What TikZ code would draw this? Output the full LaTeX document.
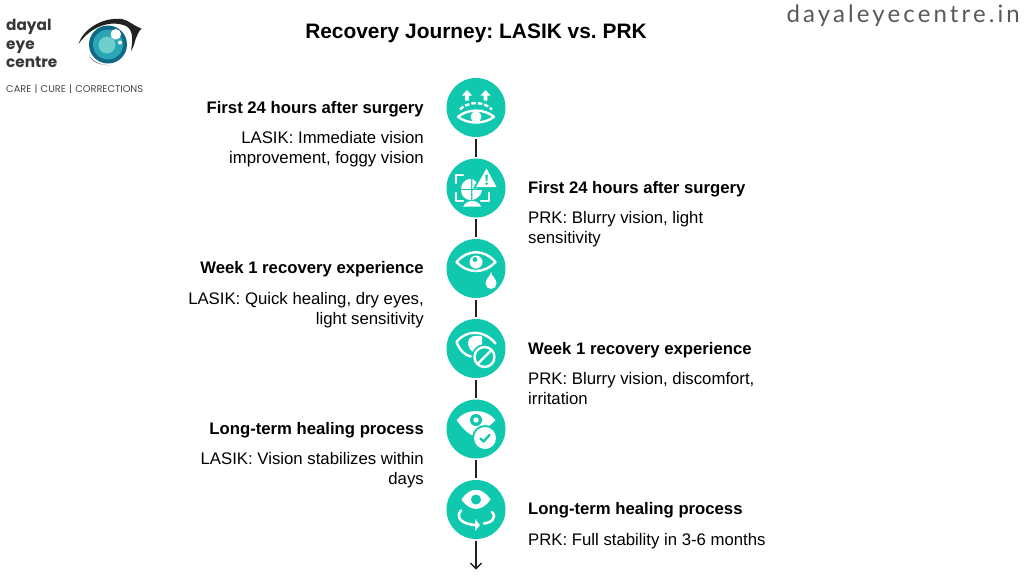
\documentclass[tikz,border=0pt]{standalone}
\usepackage{fontspec}
\setmainfont{Liberation Sans}
\newfontfamily\logofont{Poppins}
\newfontfamily\webfont[LetterSpace=13]{Lato}
\usetikzlibrary{arrows.meta}
\definecolor{tealc}{HTML}{0FC8AE}
\definecolor{inkc}{HTML}{222222}
\definecolor{logoa}{HTML}{0E6A86}
\definecolor{logob}{HTML}{2AA5B5}
\definecolor{logoc}{HTML}{6CCFCB}
\tikzset{
  stepdisc/.style={circle,fill=tealc,draw=none,minimum size=59pt,inner sep=0pt},
  link/.style={draw=inkc,line width=1.5pt,shorten >=1.6pt,shorten <=1.6pt},
  headl/.style={anchor=base east,inner sep=0pt,font=\fontsize{16.7}{20}\selectfont\bfseries,text=black},
  headr/.style={anchor=base west,inner sep=0pt,font=\fontsize{16.7}{20}\selectfont\bfseries,text=black},
  bodyl/.style={anchor=base east,inner sep=0pt,align=right,font=\fontsize{16.75}{20}\selectfont,text=black},
  bodyr/.style={anchor=base west,inner sep=0pt,align=left,font=\fontsize{16.75}{20}\selectfont,text=black},
  wl/.style={draw=white,line width=2.4pt,line cap=round,line join=round},
  logotext/.style={anchor=base west,inner sep=0pt,text=black!78,font=\fontsize{15.3}{15}\selectfont\logofont\bfseries},
}
\frenchspacing
\begin{document}
\frenchspacing
\begin{tikzpicture}[x=1pt,y=-1pt]
\useasboundingbox (0,0) rectangle (1024,576);
\fill[white] (0,0) rectangle (1024,576);
% logo
\node[logotext] (l1) at (6,30) {dayal};
\node[logotext] (l2) at (6,49) {eye};
\node[logotext] (l3) at (6,67) {centre};
\node[anchor=base west,inner sep=0pt,text=black!72,font=\fontsize{9.8}{9}\selectfont\logofont] (l4) at (6,92) {CARE\,\,|\,\,CURE\,\,|\,\,CORRECTIONS};
\fill[inkc] (78.5,44) .. controls (84,27) and (105,17) .. (122,19) .. controls (128,20) and (134,26) .. (141.5,28.5) .. controls (139,31) and (137,35) .. (135,41) .. controls (134,45) and (133,48) .. (131,51) .. controls (133,38) and (133,30) .. (126,26) .. controls (112,20) and (92,25) .. (78.5,44) -- cycle;
\fill[inkc] (89,55) .. controls (91,60) and (100,66) .. (110,65) .. controls (100,65.5) and (92,62) .. (89,55) -- cycle;
\fill[logoa] (108,44.5) circle (19);
\fill[logob] (108,44.5) circle (15);
\fill[logoc] (107,45) circle (8.5);
\fill[white] (115.8,34.3) circle (5.3);
\fill[white] (120,42.5) circle (2);
% title & website
\node[anchor=base,inner sep=0pt,font=\fontsize{20.9}{24}\selectfont\bfseries] (title) at (476,38) {Recovery Journey: LASIK vs. PRK};
\node[anchor=base east,inner sep=0pt,text=black!65,font=\fontsize{24}{24}\selectfont\webfont] (web) at (1020,22) {dayaleyecentre.in};
% discs
\node[stepdisc] (c1) at (476,107.5) {};
\node[stepdisc] (c2) at (476,188) {};
\node[stepdisc] (c3) at (476,268.5) {};
\node[stepdisc] (c4) at (476,348.5) {};
\node[stepdisc] (c5) at (476,429) {};
\node[stepdisc] (c6) at (476,509.5) {};
\coordinate (endp) at (476,569.5);
\draw[link] (c1)--(c2);
\draw[link] (c2)--(c3);
\draw[link] (c3)--(c4);
\draw[link] (c4)--(c5);
\draw[link] (c5)--(c6);
\draw[draw=inkc,line width=1.3pt,shorten <=1.6pt,-{Straight Barb[length=5.5pt,width=11pt,line width=1.3pt]}] (c6)--(endp);
% texts
\node[headl] (h1) at (424,113) {First 24 hours after surgery};
\node[bodyl] (b1) at (424,163) {LASIK: Immediate vision\\improvement, foggy vision};
\node[headr] (h2) at (528,193) {First 24 hours after surgery};
\node[bodyr] (b2) at (528,243) {PRK: Blurry vision, light\\sensitivity};
\node[headl] (h3) at (424,273) {Week 1 recovery experience};
\node[bodyl] (b3) at (424,324) {LASIK: Quick healing, dry eyes,\\light sensitivity};
\node[headr] (h4) at (528,354) {Week 1 recovery experience};
\node[bodyr] (b4) at (528,404) {PRK: Blurry vision, discomfort,\\irritation};
\node[headl] (h5) at (424,434) {Long-term healing process};
\node[bodyl] (b5) at (424,484) {LASIK: Vision stabilizes within\\days};
\node[headr] (h6) at (528,514) {Long-term healing process};
\node[bodyr] (b6) at (528,545) {PRK: Full stability in 3-6 months};
% icon 1
\begin{scope}[shift={(c1.center)}]
 \foreach \dx in {-9,9.5}{
  \fill[white] (\dx,-17.5) -- (\dx+5,-12) -- (\dx+1.8,-12) -- (\dx+1.8,-7) -- (\dx-1.8,-7) -- (\dx-1.8,-12) -- (\dx-5,-12) -- cycle;}
 \draw[wl,line cap=butt,dash pattern=on 4.5pt off 2pt] (-16,2) .. controls (-8,-6.5) and (8,-6.5) .. (16,2);
 \draw[wl] (-18,9.3) .. controls (-8,1) and (8,1) .. (18,9.3) .. controls (8,17) and (-8,17) .. (-18,9.3) -- cycle;
 \fill[white] (0,9.3) circle (5.5);
\end{scope}
% icon 2
\begin{scope}[shift={(c2.center)}]
 \draw[wl] (-13,-13) -- (-20,-13) -- (-20,-5);
 \draw[wl] (-20,5) -- (-20,13) -- (-13,13);
 \draw[wl] (5,13) -- (13,13) -- (13,5);
 \fill[white] (-5,0.8) -- (-15,0.8) arc (180:270:10) -- cycle;
 \fill[white] (-5,2.2) -- (-15,2.2) arc (180:90:10) -- cycle;
 \fill[white] (-3.6,0.8) -- (-3.6,-9) -- (1.5,-5) -- (2,0.8) -- cycle;
 \fill[white] (-3.6,2.2) -- (6,2.2) .. controls (5.5,7) and (1,11) .. (-3.6,12) -- cycle;
 \fill[white] (-13,18.7) .. controls (-11,14.5) and (-7,13) .. (-4,13) .. controls (0,13) and (4,15) .. (5,18.7) -- cycle;
 \fill[tealc] (10.5,-23) -- (24,0.5) -- (-3,0.5) -- cycle;
 \fill[white] (10.5,-19.5) -- (20.5,-1) -- (0,-1) -- cycle;
 \fill[tealc] (9.4,-13) -- (11.8,-13) -- (11.4,-7) -- (9.8,-7) -- cycle;
 \fill[tealc] (10.6,-4.4) circle (1.4);
\end{scope}
% icon 3
\begin{scope}[shift={(c3.center)}]
 \draw[wl] (-19.5,-6.5) .. controls (-8,-19.5) and (8,-19.5) .. (19.5,-6.5) .. controls (8,5.5) and (-8,5.5) .. (-19.5,-6.5) -- cycle;
 \fill[white] (0,-6.5) circle (6.5);
 \fill[tealc] (-1,-9) circle (2.4);
 \fill[white] (15,3.7) .. controls (16,8) and (20.5,10.5) .. (20.5,15) arc (0:180:5.5) .. controls (9.5,10.5) and (14,8) .. (15,3.7) -- cycle;
\end{scope}
% icon 4
\begin{scope}[shift={(c4.center)}]
 \draw[wl] (-5,8) .. controls (-11,7) and (-16,2) .. (-19.5,-6.5) .. controls (-10,-19) and (8,-19) .. (19.5,-5);
 \fill[white] (-8,-6) .. controls (-8,-12) and (-1,-14) .. (6,-12) -- (6,-4) -- (-2,4) .. controls (-6,2) and (-8,-2) .. (-8,-6) -- cycle;
 \fill[tealc] (8.5,8.5) circle (13);
 \draw[white,line width=2.4pt] (8.5,8.5) circle (10);
 \draw[white,line width=2.4pt] (1.5,15.5) -- (15.5,1.5);
\end{scope}
% icon 5
\begin{scope}[shift={(c5.center)}]
 \fill[white] (-19.5,-9) .. controls (-10,-21) and (10,-21) .. (19.5,-9) .. controls (14,-3) and (10,0) .. (5,-1) -- (-2,7) .. controls (-10,4) and (-15,-3) .. (-19.5,-9) -- cycle;
 \fill[tealc] (0,-9) circle (6);
 \fill[white] (0,-9) circle (2.7);
 \fill[tealc] (9,9) circle (13);
 \fill[white] (9,9) circle (11);
 \draw[tealc,line width=2.4pt,line cap=round,line join=round] (4.5,9.5) -- (7.5,12.5) -- (13.5,6);
\end{scope}
% icon 6
\begin{scope}[shift={(c6.center)}]
 \fill[white] (-14.5,-10) .. controls (-6,-23) and (6,-23) .. (14.5,-10) .. controls (6,2.5) and (-6,2.5) .. (-14.5,-10) -- cycle;
 \fill[tealc] (0,-10) circle (5);
 \draw[white,line width=2.6pt,line cap=round] (-15,1) .. controls (-21,8) and (-14,15) .. (0,15.5);
 \fill[white] (-1,9.5) -- (4,15.5) -- (-1,21.5) -- cycle;
 \draw[white,line width=2.6pt,line cap=round] (16,2.5) .. controls (21,8) and (16,13) .. (8,14);
\end{scope}
\end{tikzpicture}
\end{document}
